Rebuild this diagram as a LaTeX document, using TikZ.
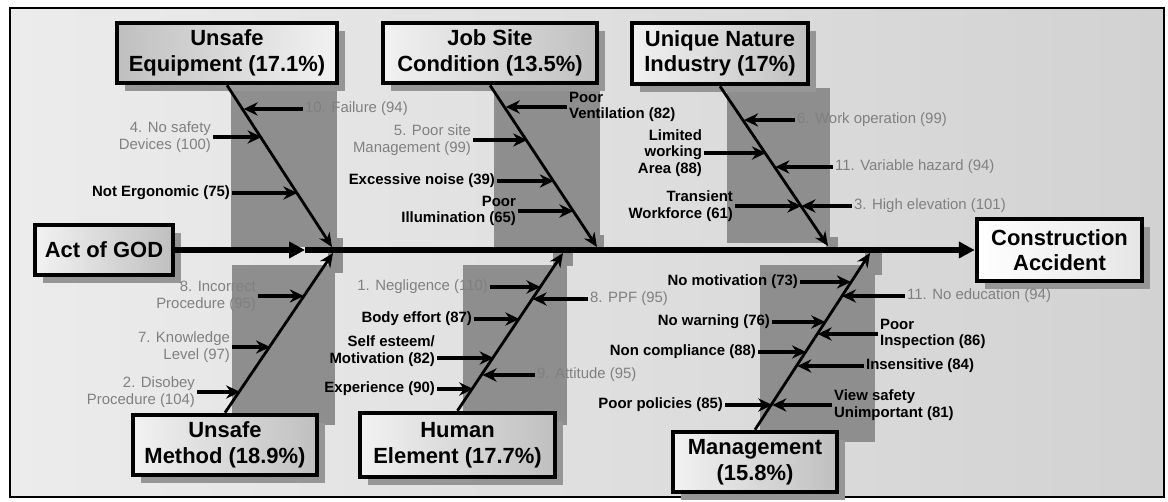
\documentclass[tikz,border=0pt]{standalone}
\usepackage{fontspec}
\setmainfont{Liberation Sans}
\usetikzlibrary{arrows.meta, positioning, calc, shadows}

\definecolor{bgleft}{RGB}{236,236,236}
\definecolor{bgright}{RGB}{210,210,210}
\definecolor{stripgray}{RGB}{142,142,142}
\definecolor{labgray}{RGB}{128,128,128}
\definecolor{shadegray}{RGB}{150,150,150}

\tikzset{
  catbox/.style={draw, line width=2.6pt, left color=gray!10, right color=gray!50,
    inner sep=0pt, align=center, font=\fontsize{12.5}{14.5}\selectfont\bfseries,
    drop shadow={shadow xshift=4.5pt, shadow yshift=-4.5pt, fill=shadegray, opacity=1}},
  cause/.style={font=\fontsize{8.5}{9.5}\selectfont\bfseries, inner sep=1pt},
  causeg/.style={font=\fontsize{8.5}{9.5}\selectfont, text=labgray, inner sep=1pt},
  strip/.style={fill=stripgray},
  spine/.style={line width=3pt, -{Triangle[length=9pt,width=9pt]}},
  bone/.style={line width=1.6pt, -{Stealth[length=8pt,width=7pt]}},
  arr/.style={line width=2pt, -{Stealth[length=8pt,width=7.5pt]}}
}

\begin{document}
\begin{tikzpicture}[x=0.02cm, y=-0.02cm]
    \useasboundingbox (0,0) rectangle (1168,502);
    \shade[left color=bgleft, right color=bgright] (10,8) rectangle (1164,497);
    \draw[line width=1.6pt] (10,8) rectangle (1164,497);

    \fill[strip] (231,83) rectangle (337,247);
    \fill[strip] (232,265) rectangle (335,425);
    \fill[strip] (494,83) rectangle (600,247);
    \fill[strip] (463,265) rectangle (567,425);
    \fill[strip] (727,88) rectangle (830,243);
    \fill[strip] (760,265) rectangle (875,442);
    \fill[strip] (328,238) rectangle (343,273);
    \fill[strip] (590,235) rectangle (604,250);
    \fill[strip] (553,252) rectangle (573,266);
    \fill[strip] (826,237) rectangle (838,250);
    \fill[strip] (865,252) rectangle (882,275);

    \node[catbox, minimum width=4.4cm, minimum height=1.2cm, left color=gray!50, right color=gray!10] (ue) at (227,53) {Unsafe\\Equipment (17.1\%)};
    \node[catbox, minimum width=4.28cm, minimum height=1.2cm] (js) at (490,53) {Job Site\\Condition (13.5\%)};
    \node[catbox, minimum width=3.52cm, minimum height=1.22cm] (un) at (720,53.5) {Unique Nature\\Industry (17\%)};
    \node[catbox, minimum width=3.68cm, minimum height=1.2cm] (um) at (225,445) {Unsafe\\Method (18.9\%)};
    \node[catbox, minimum width=3.9cm, minimum height=1.28cm] (he) at (457.5,445) {Human\\Element (17.7\%)};
    \node[catbox, minimum width=3.28cm, minimum height=1.2cm] (mg) at (755,462) {Management\\(15.8\%)};
    \node[catbox, minimum width=2.76cm, minimum height=1.0cm] (god) at (104,250) {Act of GOD};
    \node[catbox, minimum width=3.3cm, minimum height=1.24cm, left color=white, right color=gray!20] (acc) at (1059.5,250) {Construction\\Accident};

    \coordinate (gA) at (305,250);
    \draw[spine] (god) -- (gA);
    \draw[spine] (gA) -- (acc);

    \coordinate (jA) at (332,247);
    \coordinate (jB) at (597,247);
    \coordinate (jC) at (828,246);
    \coordinate (jD) at (333,253);
    \coordinate (jE) at (563,253);
    \coordinate (jF) at (870,253);
    \draw[bone] (ue.south) -- (jA);
    \draw[bone] (js.south) -- (jB);
    \draw[bone] (un.south) -- (jC);
    \draw[bone] (um.north) -- (jD);
    \draw[bone] (he.north) -- (jE);
    \draw[bone] (mg.north) -- (jF);

    \coordinate (qa1) at (243.6,109);
    \coordinate (qa2) at (261.6,137);
    \coordinate (qa3) at (297.4,193);
    \node[causeg, anchor=west] (a1) at (303,109) {10. Failure (94)};
    \node[causeg, anchor=east, align=right] (a2) at (213,137) {4. No safety\\Devices (100)};
    \node[cause, anchor=east] (a3) at (232,193) {Not Ergonomic (75)};
    \draw[arr] (a1) -- (qa1);
    \draw[arr] (a2) -- (qa2);
    \draw[arr] (a3) -- (qa3);

    \coordinate (qb1) at (505.7,107);
    \coordinate (qb2) at (527.2,140);
    \coordinate (qb3) at (553.9,181);
    \coordinate (qb4) at (573.5,211);
    \node[cause, anchor=west, align=left] (b1) at (567,107) {Poor\\Ventilation (82)};
    \node[causeg, anchor=east, align=right] (b2) at (473,140) {5. Poor site\\Management (99)};
    \node[cause, anchor=east] (b3) at (497,181) {Excessive noise (39)};
    \node[cause, anchor=east, align=right] (b4) at (518,211) {Poor\\Illumination (65)};
    \draw[arr] (b1) -- (qb1);
    \draw[arr] (b2) -- (qb2);
    \draw[arr] (b3) -- (qb3);
    \draw[arr] (b4) -- (qb4);

    \coordinate (qc1) at (744,120);
    \coordinate (qc2) at (766,153);
    \coordinate (qc3) at (775.3,167);
    \coordinate (qc4) at (801.4,206);
    \node[causeg, anchor=west] (c1) at (795,120) {6. Work operation (99)};
    \node[cause, anchor=east, align=right] (c2) at (704,153) {Limited\\working\\Area (88)};
    \node[causeg, anchor=west] (c3) at (833,167) {11. Variable hazard (94)};
    \node[cause, anchor=east, align=right] (c4) at (735,206) {Transient\\Workforce (61)};
    \node[causeg, anchor=west] (c5) at (852,206) {3. High elevation (101)};
    \draw[arr] (c1) -- (qc1);
    \draw[arr] (c2) -- (qc2);
    \draw[arr] (c3) -- (qc3);
    \draw[arr] (c4) -- (qc4);
    \draw[arr] (c5) -- (qc4);

    \coordinate (qd1) at (303.9,296);
    \coordinate (qd2) at (270.1,347);
    \coordinate (qd3) at (240.2,392);
    \node[causeg, anchor=east, align=right] (d1) at (258,296) {8. Incorrect\\Procedure (95)};
    \node[causeg, anchor=east, align=right] (d2) at (232,347) {7. Knowledge\\Level (97)};
    \node[causeg, anchor=east, align=right] (d3) at (197,392) {2. Disobey\\Procedure (104)};
    \draw[arr] (d1) -- (qd1);
    \draw[arr] (d2) -- (qd2);
    \draw[arr] (d3) -- (qd3);

    \coordinate (qe1) at (540.5,287);
    \coordinate (qe2) at (532.6,299);
    \coordinate (qe3) at (519.4,319);
    \coordinate (qe4) at (493.7,358);
    \coordinate (qe5) at (482.5,375);
    \coordinate (qe6) at (473.3,389);
    \node[causeg, anchor=east] (e1) at (490,287) {1. Negligence (110)};
    \node[causeg, anchor=west] (e2) at (588,299) {8. PPF (95)};
    \node[cause, anchor=east] (e3) at (474,319) {Body effort (87)};
    \node[cause, anchor=east, align=right] (e4) at (437,351) {Self esteem/\\Motivation (82)};
    \node[causeg, anchor=west] (e5) at (535,375) {9. Attitude (95)};
    \node[cause, anchor=east] (e6) at (437,389) {Experience (90)};
    \draw[arr] (e1) -- (qe1);
    \draw[arr] (e2) -- (qe2);
    \draw[arr] (e3) -- (qe3);
    \draw[arr] (e4.east |- qe4) -- (qe4);
    \draw[arr] (e5) -- (qe5);
    \draw[arr] (e6) -- (qe6);

    \coordinate (qf1) at (850.9,282);
    \coordinate (qf2) at (841.9,296);
    \coordinate (qf3) at (825.3,322);
    \coordinate (qf4) at (817.6,334);
    \coordinate (qf5) at (806.1,352);
    \coordinate (qf6) at (797.2,366);
    \coordinate (qf7) at (772.3,405);
    \node[cause, anchor=east] (f1) at (800,282) {No motivation (73)};
    \node[causeg, anchor=west] (f2) at (905,296) {11. No education (94)};
    \node[cause, anchor=east] (f3) at (772,322) {No warning (76)};
    \node[cause, anchor=west, align=left] (f4) at (878,334) {Poor\\Inspection (86)};
    \node[cause, anchor=east] (f5) at (758,352) {Non compliance (88)};
    \node[cause, anchor=west] (f6) at (864,366) {Insensitive (84)};
    \node[cause, anchor=east] (f7) at (725,405) {Poor policies (85)};
    \node[cause, anchor=west, align=left] (f8) at (832,405) {View safety\\Unimportant (81)};
    \draw[arr] (f1) -- (qf1);
    \draw[arr] (f2) -- (qf2);
    \draw[arr] (f3) -- (qf3);
    \draw[arr] (f4) -- (qf4);
    \draw[arr] (f5) -- (qf5);
    \draw[arr] (f6) -- (qf6);
    \draw[arr] (f7) -- (qf7);
    \draw[arr] (f8) -- (qf7);
\end{tikzpicture}
\end{document}
